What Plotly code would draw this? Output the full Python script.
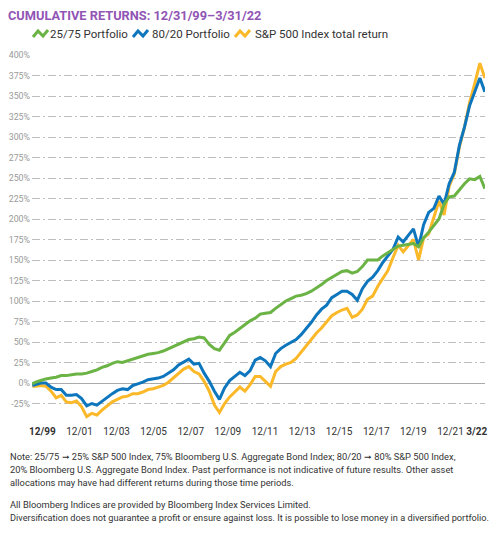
import pandas as pd
import plotly.graph_objects as go

# Quarter-end dates (plus the first month)
dates = [pd.Timestamp("2000-01-31")] + list(pd.date_range("2000-03-31", "2022-03-31", freq="QE"))

# Cumulative returns (%)
green_2575 = [-1,
    1, 3, 5, 6, 7, 9, 9, 10, 11, 11, 12, 14, 16, 19, 21, 24, 26, 25, 27, 29,
    31, 33, 35, 36, 37, 39, 42, 45, 48, 51, 53, 54, 56, 55, 47, 42, 40, 49, 58, 62,
    67, 72, 76, 79, 84, 85, 86, 91, 96, 100, 103, 106, 107, 109, 112, 116, 120, 125, 129, 133,
    136, 137, 134, 136, 142, 150, 150, 150, 155, 159, 162, 167, 168, 169, 170, 166, 177, 184, 192, 200,
    218, 227, 228, 236, 243, 249, 248, 252, 237]
blue_8020 = [-3,
    -2, 0, 0, -5, -8, -8, -15, -15, -14, -19, -28, -25, -27, -22, -17, -13, -9, -7, -8, -3,
    -1, 1, 4, 5, 6, 8, 12, 16, 22, 26, 29, 23, 24, 12, 2, -10, -20, -6, 3, 8,
    13, 9, 15, 28, 31, 27, 20, 36, 42, 46, 49, 53, 59, 66, 74, 83, 90, 95, 104, 108,
    112, 112, 108, 101, 115, 124, 129, 137, 147, 155, 163, 178, 172, 180, 188, 166, 193, 208, 213, 228,
    218, 243, 257, 290, 312, 338, 355, 372, 355]
yellow_sp500 = [-4,
    -4, -3, -4, -10, -18, -15, -23, -24, -22, -29, -41, -37, -39, -33, -28, -23, -20, -17, -16, -13,
    -13, -11, -8, -7, -5, -3, 1, 6, 12, 17, 20, 14, 11, 2, -10, -27, -36, -25, -17, -11,
    -5, -10, -2, 8, 8, 2, -4, 14, 20, 23, 25, 30, 38, 46, 54, 61, 67, 74, 82, 86,
    89, 91, 80, 83, 90, 102, 106, 118, 128, 137, 153, 168, 160, 168, 175, 150, 177, 182, 202, 222,
    205, 240, 255, 288, 312, 342, 365, 390, 372]

series_names = ["25/75 Portfolio", "80/20 Portfolio", "S&P 500 Index total return"]
series_colors = ["#6ab344", "#0d76bd", "#fbb828"]

y_ticks = list(range(-50, 401, 25))
y_ticktext = ["" if v == -50 else f"{v}%" for v in y_ticks]

x_ticktext = ["<b>12/99</b>", "12/01", "12/03", "12/05", "12/07", "12/09", "12/11",
              "12/13", "12/15", "12/17", "12/19", "12/21", "<b>3/22</b>"]
# label positions (months after Jan 2000) as printed on the original chart
x_tick_months = [5.9, 27.7, 49.5, 71.3, 93.1, 114.9, 136.7, 158.5, 180.3, 202.1, 223.9, 245.7, 261.2]
start = pd.Timestamp("2000-01-31")
x_tickvals = [start + pd.Timedelta(days=m * 30.44) for m in x_tick_months]

NARROW = "Liberation Sans Narrow, Roboto, sans-serif"

# figure geometry (page has an 8px body margin)
W, H = 493, 533
ML, MR, MT, MB = 24, 16, 47, 117
PW, PH = W - ML - MR, H - MT - MB


def fx(px):  # figure pixel -> paper x
    return (px - ML) / PW


def fy(py):  # figure pixel -> paper y
    return (H - MB - py) / PH


fig = go.Figure()
for vals, name, col in [(yellow_sp500, series_names[2], series_colors[2]),
                        (blue_8020, series_names[1], series_colors[1]),
                        (green_2575, series_names[0], series_colors[0])]:
    fig.add_trace(go.Scatter(x=dates, y=vals, mode="lines", name=name, showlegend=False,
                             line=dict(color=col, width=3)))

fig.update_layout(
    width=W, height=H,
    margin=dict(l=ML, r=MR, t=MT, b=MB, autoexpand=False),
    paper_bgcolor="white", plot_bgcolor="white",
    font=dict(family=NARROW, color="#333333"),
    title=dict(text="<b>CUMULATIVE RETURNS: 12/31/99–3/31/22</b>", x=0, xref="container",
               xanchor="left", y=1 - 7.5 / H, yref="container", yanchor="middle",
               pad=dict(l=0, t=0, b=0, r=0),
               font=dict(size=12.8, color="#9155b5", family="Roboto, sans-serif")),
    showlegend=False,
)
fig.update_xaxes(range=[pd.Timestamp("2000-01-25"), pd.Timestamp("2022-04-02")],
                 tickvals=x_tickvals, ticktext=x_ticktext, showgrid=False, zeroline=False,
                 showline=False, ticks="", tickangle=0, automargin=False,
                 tickfont=dict(size=10, color="#333333", family=NARROW))
fig.update_yaxes(range=[-50, 400], tickvals=y_ticks, ticktext=y_ticktext,
                 showgrid=True, gridcolor="#bdbdbd", gridwidth=1, griddash="8px,3px,2px,3px",
                 zeroline=True, zerolinecolor="#aaaaaa", zerolinewidth=1,
                 showline=False, ticks="", ticklabelstandoff=1, automargin=False,
                 tickfont=dict(size=8.8, color="#9a9a9a", family=NARROW))

# legend (icon + label), drawn manually to match the original layout
legend_icon_px = [25, 125, 227]
legend_text_px = [40, 142, 245]
legend_y_px = 26
for i in range(3):
    fig.add_shape(type="path", xref="paper", yref="paper", xsizemode="pixel", ysizemode="pixel",
                  xanchor=fx(legend_icon_px[i]), yanchor=fy(legend_y_px),
                  path="M0,-3 L5,3 L10,-2 L15,4",
                  line=dict(color=series_colors[i], width=3))
    fig.add_annotation(text=series_names[i], xref="paper", yref="paper",
                       x=fx(legend_text_px[i]), y=fy(legend_y_px), xanchor="left", yanchor="middle",
                       showarrow=False, font=dict(size=11.5, color="#333333", family=NARROW))

notes = [
    ("Note: 25/75 ➞ 25% S&P 500 Index, 75% Bloomberg U.S. Aggregate Bond Index; 80/20 ➞ 80% S&P 500 Index,", 448, 9.3),
    ("20% Bloomberg U.S. Aggregate Bond Index. Past performance is not indicative of future results. Other asset", 461, 9.3),
    ("allocations may have had different returns during those time periods.", 474, 9.3),
    ("All Bloomberg Indices are provided by Bloomberg Index Services Limited.", 496, 9.3),
    ("Diversification does not guarantee a profit or ensure against loss. It is possible to lose money in a diversified portfolio.", 509, 9.2),
]
for txt, ypx, fs in notes:
    fig.add_annotation(text=txt, xref="paper", yref="paper", x=fx(0), y=fy(ypx),
                       yanchor="middle", xanchor="left", align="left",
                       showarrow=False, font=dict(size=fs, color="#333333", family=NARROW))

fig.write_html("out.html")
